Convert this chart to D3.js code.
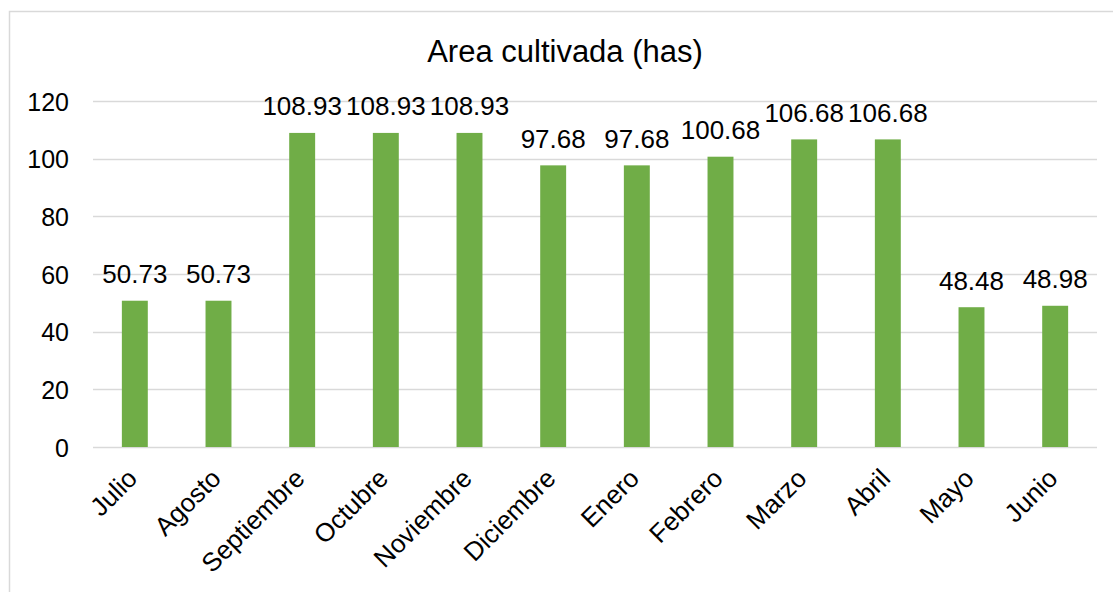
<!DOCTYPE html>
<html>
<head>
<meta charset="utf-8">
<script src="https://cdn.jsdelivr.net/npm/d3@7"></script>
<style>
  html, body { margin: 0; padding: 0; background: #fff; }
  svg { display: block; font-family: "Liberation Sans", Arial, sans-serif; }
</style>
</head>
<body>
<svg id="chart" width="1113" height="592"></svg>
<script>
const months = ["Julio", "Agosto", "Septiembre", "Octubre", "Noviembre", "Diciembre",
                "Enero", "Febrero", "Marzo", "Abril", "Mayo", "Junio"];
const areaHas = [50.73, 50.73, 108.93, 108.93, 108.93, 97.68,
                 97.68, 100.68, 106.68, 106.68, 48.48, 48.98];
const yTicks = [0, 20, 40, 60, 80, 100, 120];
const chartTitle = "Area cultivada (has)";

const svg = d3.select("#chart");
const W = 1113, H = 592;
const plot = { left: 93, right: 1097, top: 101, bottom: 447 };
const FONT = "Liberation Sans, Arial, sans-serif";

// outer chart frame (continues past the right and bottom edges)
svg.append("rect")
  .attr("x", 9.5).attr("y", 11.5)
  .attr("width", W + 20).attr("height", H + 20)
  .attr("fill", "#fff").attr("stroke", "#d9d9d9").attr("stroke-width", 1.5);

const x = d3.scaleBand().domain(months)
  .range([plot.left, plot.right]).paddingInner(0.69).paddingOuter(0.345);
const y = d3.scaleLinear().domain([0, 120]).range([plot.bottom, plot.top]);

// horizontal gridlines
svg.append("g").selectAll("line").data(yTicks).join("line")
  .attr("x1", plot.left).attr("x2", plot.right)
  .attr("y1", d => Math.round(y(d)) + 0.5).attr("y2", d => Math.round(y(d)) + 0.5)
  .attr("stroke", "#d9d9d9").attr("stroke-width", 1.5);

// y axis labels
const yAxis = d3.axisLeft(y).tickValues(yTicks).tickSize(0).tickPadding(0);
const gy = svg.append("g").attr("transform", `translate(${plot.left - 24},0)`).call(yAxis);
gy.select(".domain").remove();
gy.attr("font-size", null).attr("font-family", null);
gy.selectAll("text").attr("font-size", 25).attr("fill", "#000")
  .attr("font-family", FONT).attr("dy", "0.36em");

// bars
svg.append("g").selectAll("rect").data(months).join("rect")
  .attr("x", d => x(d))
  .attr("width", x.bandwidth())
  .attr("y", (d, i) => y(areaHas[i]))
  .attr("height", (d, i) => y(0) - y(areaHas[i]))
  .attr("fill", "#70ad47");

// value labels
svg.append("g").selectAll("text").data(months).join("text")
  .attr("x", d => x(d) + x.bandwidth() / 2)
  .attr("y", (d, i) => y(areaHas[i]) - 17.5)
  .attr("text-anchor", "middle")
  .attr("font-size", 26).attr("fill", "#000").attr("font-family", FONT)
  .text((d, i) => areaHas[i].toFixed(2));

// x axis labels, rotated
const xAxis = d3.axisBottom(x).tickSize(0).tickPadding(0);
const gx = svg.append("g").attr("transform", `translate(0,${plot.bottom})`).call(xAxis);
gx.select(".domain").remove();
gx.attr("font-size", null).attr("font-family", null);
gx.selectAll("text")
  .attr("font-size", 26).attr("fill", "#000")
  .attr("font-family", FONT)
  .attr("text-anchor", "end")
  .attr("dy", null).attr("y", 0)
  .attr("transform", "translate(4,33) rotate(-45)");

// title
svg.append("text")
  .attr("x", 565).attr("y", 62)
  .attr("text-anchor", "middle")
  .attr("font-size", 31).attr("fill", "#000").attr("font-family", FONT)
  .text(chartTitle);
</script>
</body>
</html>
